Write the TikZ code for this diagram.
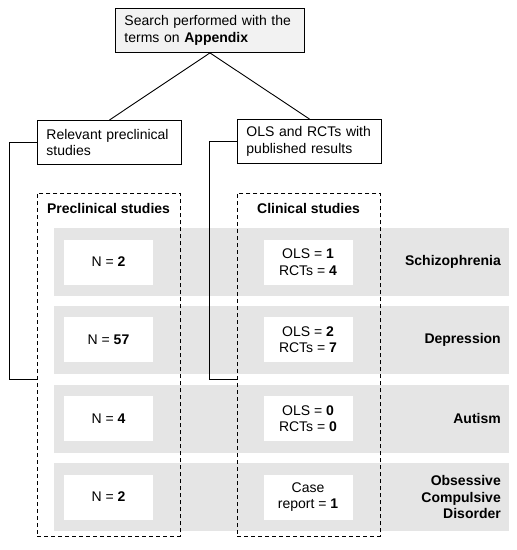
\documentclass[tikz,border=0pt]{standalone}
\usepackage{fontspec}
\setmainfont{Liberation Sans}
\begin{document}
\begin{tikzpicture}[x=1pt,y=-1pt,
  every node/.style={font=\fontsize{14}{16.5}\selectfont},
  txtbox/.style={draw, line width=0.9pt, anchor=north west, inner xsep=9pt, inner ysep=0pt, align=left},
  rowband/.style={fill=black!10, draw=none, anchor=north west, minimum width=455, minimum height=68, inner sep=0pt},
  whitebox/.style={fill=white, draw=none, minimum width=89, minimum height=45, inner sep=0pt, align=center},
  dashbox/.style={draw, dash pattern=on 4pt off 3pt, line width=0.9pt, anchor=north west, minimum width=143, minimum height=343, inner sep=0pt},
  boldtitle/.style={font=\fontsize{14}{16.5}\selectfont\bfseries},
  rowlabel/.style={font=\fontsize{14}{16.5}\selectfont\bfseries, anchor=east, align=right, inner sep=0pt},
  conn/.style={line width=0.9pt}]
\useasboundingbox (0,0) rectangle (517,550);

% gray row bands
\node[rowband] (r1) at (54,228) {};
\node[rowband] (r2) at (54,306) {};
\node[rowband] (r3) at (54,385) {};
\node[rowband] (r4) at (54,463) {};

% white boxes
\node[whitebox] (p1) at (108.5,262) {N = \textbf{2}};
\node[whitebox] (p2) at (108.5,339.5) {N = \textbf{57}};
\node[whitebox] (p3) at (108.5,418.5) {N = \textbf{4}};
\node[whitebox] (p4) at (108.5,497) {N = \textbf{2}};
\node[whitebox] (c1) at (308,262) {OLS = \textbf{1}\\RCTs = \textbf{4}};
\node[whitebox] (c2) at (308,339.5) {OLS = \textbf{2}\\RCTs = \textbf{7}};
\node[whitebox] (c3) at (308,418.5) {OLS = \textbf{0}\\RCTs = \textbf{0}};
\node[whitebox] (c4) at (308,497) {Case\\report = \textbf{1}};

% row labels
\node[rowlabel] (l1) at (501,262) {Schizophrenia};
\node[rowlabel] (l2) at (501,339.5) {Depression};
\node[rowlabel] (l3) at (501,418.5) {Autism};
\node[rowlabel] (l4) at (501,497) {Obsessive\\Compulsive\\Disorder};

% dashed group boxes
\node[dashbox] (pre) at (37,193) {};
\node[dashbox] (cli) at (237,193) {};
\node[boldtitle] (pret) at (108.5,208) {Preclinical studies};
\node[boldtitle] (clit) at (308.5,208) {Clinical studies};

% top boxes
\node[txtbox, fill=black!5, minimum width=189, minimum height=44, text width=171] (top) at (115,8) {Search performed with the\\terms on \textbf{Appendix}};
\node[txtbox, fill=white, minimum width=144, minimum height=44, text width=126] (lb) at (37,120) {Relevant preclinical\\studies};
\node[txtbox, fill=white, minimum width=144, minimum height=44, text width=126] (rb) at (237,119) {OLS and RCTs with\\published results};

% connectors
\draw[conn] (top.south) -- (lb.north);
\draw[conn] (top.south) -- (rb.north);
\coordinate (pe) at (37,379);
\coordinate (ce) at (237,379);
\draw[conn] (lb.west) -- ++(-28,0) |- (pe);
\draw[conn] (rb.west) -- ++(-28,0) |- (ce);
\end{tikzpicture}
\end{document}
